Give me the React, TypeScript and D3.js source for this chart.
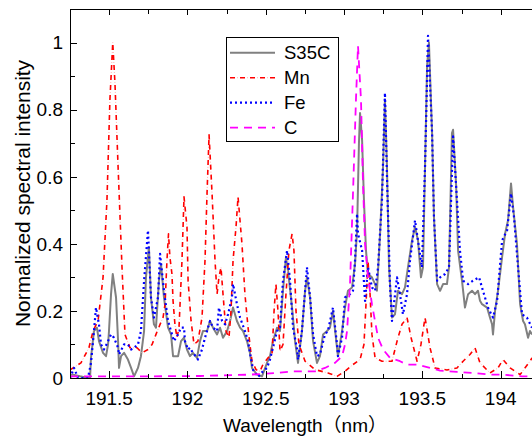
import React from "react";
import * as d3 from "d3";

// spectra: [wavelength (nm), normalized intensity]
const s35c: [number, number][] = [
  [191.25, 0.01], [191.269, 0.01], [191.314, 0.005], [191.365, 0], [191.378, 0], [191.384, 0.06],
  [191.403, 0.14], [191.422, 0.15], [191.435, 0.11], [191.461, 0.075], [191.48, 0.065], [191.493, 0.1],
  [191.499, 0.14], [191.512, 0.25], [191.523, 0.31], [191.544, 0.24], [191.557, 0.11], [191.563, 0.03],
  [191.576, 0.065], [191.595, 0.075], [191.62, 0.055], [191.64, 0.03], [191.659, 0.005], [191.684, 0.03],
  [191.703, 0.065], [191.723, 0.14], [191.735, 0.3], [191.754, 0.39], [191.767, 0.24], [191.786, 0.16],
  [191.799, 0.15], [191.818, 0.29], [191.831, 0.34], [191.85, 0.24], [191.876, 0.15], [191.895, 0.13],
  [191.908, 0.065], [191.927, 0.065], [191.94, 0.065], [191.959, 0.11], [191.978, 0.12], [191.997, 0.085],
  [192.016, 0.065], [192.035, 0.075], [192.061, 0.06], [192.08, 0.11], [192.099, 0.14], [192.125, 0.14],
  [192.144, 0.17], [192.163, 0.15], [192.189, 0.13], [192.208, 0.15], [192.227, 0.12], [192.253, 0.14],
  [192.272, 0.17], [192.291, 0.21], [192.316, 0.17], [192.336, 0.15], [192.355, 0.14], [192.38, 0.11],
  [192.399, 0.075], [192.412, 0.03], [192.444, 0.01], [192.476, 0.005], [192.508, 0.045], [192.527, 0.065],
  [192.546, 0.11], [192.572, 0.15], [192.591, 0.14], [192.61, 0.26], [192.629, 0.36], [192.642, 0.32],
  [192.668, 0.21], [192.687, 0.11], [192.706, 0.045], [192.731, 0.14], [192.751, 0.26], [192.763, 0.3],
  [192.783, 0.24], [192.802, 0.11], [192.827, 0.045], [192.846, 0.065], [192.866, 0.13], [192.891, 0.14],
  [192.91, 0.15], [192.929, 0.2], [192.955, 0.09], [192.961, 0.065], [192.987, 0.14], [193.006, 0.21],
  [193.025, 0.26], [193.051, 0.27], [193.07, 0.34], [193.083, 0.44], [193.095, 0.7], [193.102, 0.79],
  [193.115, 0.71], [193.127, 0.53], [193.14, 0.38], [193.153, 0.31], [193.178, 0.3], [193.198, 0.28],
  [193.21, 0.26], [193.23, 0.43], [193.249, 0.63], [193.261, 0.83], [193.274, 0.63], [193.287, 0.33],
  [193.306, 0.18], [193.325, 0.19], [193.344, 0.26], [193.37, 0.25], [193.389, 0.27], [193.408, 0.33],
  [193.434, 0.41], [193.453, 0.45], [193.472, 0.41], [193.491, 0.3], [193.504, 0.33], [193.517, 0.63],
  [193.53, 0.93], [193.542, 1.0], [193.562, 0.73], [193.574, 0.48], [193.594, 0.28], [193.613, 0.26],
  [193.632, 0.28], [193.657, 0.28], [193.67, 0.33], [193.689, 0.73], [193.696, 0.74], [193.715, 0.58],
  [193.728, 0.38], [193.753, 0.29], [193.772, 0.21], [193.792, 0.25], [193.817, 0.26], [193.836, 0.25],
  [193.855, 0.26], [193.868, 0.23], [193.881, 0.22], [193.913, 0.21], [193.932, 0.18], [193.945, 0.16],
  [193.951, 0.13], [193.964, 0.2], [193.983, 0.26], [194.009, 0.36], [194.028, 0.43], [194.047, 0.47],
  [194.066, 0.58], [194.079, 0.51], [194.104, 0.4], [194.124, 0.22], [194.143, 0.17], [194.155, 0.16],
  [194.175, 0.12], [194.187, 0.14], [194.2, 0.13],
];

const mn: [number, number][] = [
  [191.25, 0.024], [191.32, 0.045], [191.371, 0.09], [191.397, 0.14], [191.429, 0.17], [191.461, 0.3],
  [191.486, 0.53], [191.505, 0.83], [191.523, 1.0], [191.537, 0.88], [191.557, 0.63], [191.582, 0.33],
  [191.601, 0.13], [191.633, 0.09], [191.678, 0.09], [191.71, 0.075], [191.748, 0.085], [191.774, 0.1],
  [191.799, 0.13], [191.825, 0.16], [191.844, 0.18], [191.857, 0.22], [191.869, 0.35], [191.879, 0.43],
  [191.888, 0.36], [191.901, 0.31], [191.908, 0.23], [191.92, 0.16], [191.933, 0.12], [191.946, 0.15],
  [191.965, 0.35], [191.978, 0.54], [191.997, 0.45], [192.004, 0.29], [192.023, 0.17], [192.042, 0.1],
  [192.067, 0.11], [192.093, 0.18], [192.112, 0.35], [192.125, 0.55], [192.138, 0.725], [192.157, 0.55],
  [192.176, 0.35], [192.189, 0.25], [192.201, 0.3], [192.214, 0.33], [192.227, 0.25], [192.246, 0.14],
  [192.265, 0.12], [192.278, 0.2], [192.291, 0.35], [192.31, 0.45], [192.323, 0.54], [192.348, 0.4],
  [192.367, 0.25], [192.387, 0.15], [192.399, 0.1], [192.412, 0.05], [192.438, 0.025], [192.463, 0.02],
  [192.482, 0.04], [192.514, 0.06], [192.54, 0.07], [192.553, 0.2], [192.565, 0.28], [192.578, 0.2],
  [192.591, 0.08], [192.61, 0.1], [192.629, 0.25], [192.648, 0.38], [192.668, 0.43], [192.68, 0.38],
  [192.693, 0.2], [192.712, 0.1], [192.751, 0.05], [192.815, 0.025], [192.897, 0.015], [192.955, 0.005],
  [193.006, 0.02], [193.057, 0.04], [193.102, 0.055], [193.127, 0.1], [193.14, 0.22], [193.153, 0.35],
  [193.166, 0.25], [193.178, 0.13], [193.198, 0.06], [193.242, 0.05], [193.306, 0.05], [193.344, 0.12],
  [193.37, 0.16], [193.402, 0.18], [193.428, 0.12], [193.466, 0.05], [193.491, 0.1], [193.517, 0.18],
  [193.549, 0.09], [193.581, 0.03], [193.657, 0.024], [193.721, 0.03], [193.76, 0.05], [193.804, 0.07],
  [193.836, 0.09], [193.868, 0.045], [193.932, 0.015], [193.983, 0.03], [194.015, 0.055], [194.06, 0.03],
  [194.124, 0.01], [194.187, 0.05], [194.2, 0.06],
];

const fe: [number, number][] = [
  [191.25, 0], [191.276, 0.03], [191.301, 0], [191.365, 0], [191.384, 0.045], [191.403, 0.14],
  [191.416, 0.21], [191.435, 0.16], [191.448, 0.1], [191.467, 0.085], [191.493, 0.11], [191.512, 0.13],
  [191.531, 0.12], [191.557, 0.09], [191.563, 0.07], [191.595, 0.1], [191.62, 0.1], [191.64, 0.085],
  [191.659, 0.09], [191.684, 0.1], [191.703, 0.14], [191.723, 0.29], [191.748, 0.44], [191.767, 0.24],
  [191.786, 0.18], [191.812, 0.24], [191.825, 0.37], [191.85, 0.26], [191.876, 0.17], [191.895, 0.14],
  [191.914, 0.11], [191.94, 0.13], [191.959, 0.15], [191.978, 0.15], [191.984, 0.11], [192.004, 0.085],
  [192.016, 0.09], [192.035, 0.075], [192.061, 0.06], [192.067, 0.055], [192.093, 0.085], [192.112, 0.12],
  [192.144, 0.17], [192.163, 0.15], [192.189, 0.14], [192.201, 0.21], [192.221, 0.17], [192.24, 0.16],
  [192.259, 0.19], [192.284, 0.24], [192.291, 0.28], [192.316, 0.22], [192.336, 0.18], [192.367, 0.14],
  [192.387, 0.11], [192.399, 0.075], [192.419, 0.024], [192.451, 0.003], [192.482, 0.02], [192.508, 0.03],
  [192.527, 0.055], [192.546, 0.09], [192.572, 0.14], [192.591, 0.15], [192.61, 0.29], [192.636, 0.38],
  [192.655, 0.29], [192.674, 0.15], [192.7, 0.085], [192.706, 0.055], [192.731, 0.14], [192.763, 0.33],
  [192.783, 0.24], [192.802, 0.13], [192.827, 0.065], [192.846, 0.07], [192.878, 0.13], [192.897, 0.14],
  [192.929, 0.21], [192.955, 0.1], [192.961, 0.065], [192.987, 0.12], [193.006, 0.24], [193.038, 0.25],
  [193.057, 0.26], [193.07, 0.35], [193.083, 0.49], [193.089, 0.43], [193.115, 0.38], [193.134, 0.23],
  [193.153, 0.33], [193.178, 0.27], [193.198, 0.26], [193.217, 0.33], [193.242, 0.53], [193.261, 0.85],
  [193.274, 0.6], [193.293, 0.28], [193.306, 0.17], [193.338, 0.3], [193.357, 0.25], [193.376, 0.19],
  [193.402, 0.25], [193.421, 0.35], [193.453, 0.47], [193.472, 0.41], [193.497, 0.33], [193.517, 0.63],
  [193.536, 1.02], [193.562, 0.73], [193.574, 0.48], [193.594, 0.29], [193.613, 0.3], [193.645, 0.31],
  [193.67, 0.33], [193.696, 0.72], [193.721, 0.53], [193.74, 0.38], [193.76, 0.29], [193.792, 0.28],
  [193.823, 0.29], [193.862, 0.3], [193.887, 0.26], [193.919, 0.21], [193.951, 0.18], [193.977, 0.23],
  [194.009, 0.41], [194.041, 0.44], [194.066, 0.55], [194.085, 0.48], [194.111, 0.33], [194.136, 0.19],
  [194.168, 0.18], [194.2, 0.15],
];

const carbon: [number, number][] = [
  [191.25, 0.005], [191.761, 0.005], [192.08, 0.006], [192.399, 0.01], [192.572, 0.015], [192.674, 0.02],
  [192.815, 0.02], [192.878, 0.03], [192.942, 0.045], [192.987, 0.065], [193.006, 0.1], [193.019, 0.14],
  [193.038, 0.28], [193.057, 0.55], [193.076, 0.83], [193.089, 0.99], [193.108, 0.83], [193.121, 0.58],
  [193.134, 0.4], [193.153, 0.3], [193.178, 0.22], [193.217, 0.12], [193.249, 0.085], [193.293, 0.06],
  [193.357, 0.05], [193.402, 0.04], [193.466, 0.04], [193.549, 0.03], [193.613, 0.022], [193.721, 0.018],
  [193.823, 0.015], [193.932, 0.01], [194.015, 0.01], [194.136, 0.005], [194.2, 0.005],
];

const xMajorTicks = [191.5, 192, 192.5, 193, 193.5, 194];
const yMajorTicks = [0, 0.2, 0.4, 0.6, 0.8, 1];
const seriesNames = ["S35C", "Mn", "Fe", "C"];

const FONT = "'Liberation Sans', Arial, 'Noto Sans CJK JP', sans-serif";

const styles = [
  { color: "#808080", width: 2, dash: "" },
  { color: "#ff0000", width: 1.6, dash: "5,5" },
  { color: "#0000ff", width: 2.2, dash: "2,3" },
  { color: "#ff00ff", width: 1.8, dash: "8,6" },
];

export default function App() {
  const left = 70, right = 532, top = 9, bottom = 378;
  const x = d3.scaleLinear().domain([191.25, 194.2]).range([left, right]);
  const y = d3.scaleLinear().domain([0, 1.1]).range([bottom, top]);
  const line = d3.line<[number, number]>().x((d) => x(d[0])).y((d) => y(d[1]));

  const series = [s35c, mn, fe, carbon];
  const xMinor = d3.range(191.75, 194.2, 0.5);
  const yMinor = d3.range(0.1, 1.05, 0.2);

  return (
    <svg width={532} height={436} style={{ position: "absolute", left: 0, top: 0, background: "#fff" }}>
      <defs>
        <clipPath id="plot">
          <rect x={left} y={top} width={right - left + 2} height={bottom - top + 2} />
        </clipPath>
      </defs>
      <g clipPath="url(#plot)">
        {series.map((data, i) => (
          <g key={seriesNames[i]}>
            {i === 1 && (
              <path d={line(data) || ""} fill="none" stroke="#ffb4b4" strokeWidth={1}
                strokeDasharray="1,9" strokeDashoffset={-7} />
            )}
            <path d={line(data) || ""} fill="none" stroke={styles[i].color} strokeWidth={styles[i].width}
              strokeDasharray={styles[i].dash || undefined} strokeLinejoin="round" />
          </g>
        ))}
      </g>

      {/* frame */}
      <line x1={left + 0.5} x2={left + 0.5} y1={top} y2={bottom + 0.5} stroke="#000" />
      <line x1={left} x2={532} y1={top + 0.5} y2={top + 0.5} stroke="#000" />
      <line x1={left} x2={532} y1={bottom + 0.5} y2={bottom + 0.5} stroke="#000" />

      {/* x ticks */}
      {xMajorTicks.map((t) => (
        <g key={"xm" + t}>
          <line x1={Math.round(x(t)) + 0.5} x2={Math.round(x(t)) + 0.5} y1={bottom} y2={bottom - 7} stroke="#000" />
          <line x1={Math.round(x(t)) + 0.5} x2={Math.round(x(t)) + 0.5} y1={top} y2={top + 6} stroke="#000" />
          <text x={x(t)} y={405} textAnchor="middle" fontFamily={FONT} fontSize={19}>{String(t)}</text>
        </g>
      ))}
      {xMinor.map((t) => (
        <g key={"xn" + t}>
          <line x1={Math.round(x(t)) + 0.5} x2={Math.round(x(t)) + 0.5} y1={bottom} y2={bottom - 4} stroke="#000" />
          <line x1={Math.round(x(t)) + 0.5} x2={Math.round(x(t)) + 0.5} y1={top} y2={top + 5} stroke="#000" />
        </g>
      ))}

      {/* y ticks */}
      {yMajorTicks.map((t) => (
        <g key={"ym" + t}>
          <line x1={left} x2={left + 7} y1={Math.round(y(t)) + 0.5} y2={Math.round(y(t)) + 0.5} stroke="#000" />
          <text x={63} y={y(t)} dy="0.36em" textAnchor="end" fontFamily={FONT} fontSize={19}>{String(t)}</text>
        </g>
      ))}
      {yMinor.map((t) => (
        <line key={"yn" + t} x1={left} x2={left + 5} y1={Math.round(y(t)) + 0.5} y2={Math.round(y(t)) + 0.5} stroke="#000" />
      ))}

      {/* axis titles */}
      <text x={(left + right) / 2 + 4} y={431.5} textAnchor="middle" fontFamily={FONT} fontSize={19}>
        Wavelength（nm）
      </text>
      <text transform={`translate(29.5,${(top + bottom) / 2}) rotate(-90)`} textAnchor="middle"
        fontFamily={FONT} fontSize={20.9}>
        Normalized spectral intensity
      </text>

      {/* legend */}
      <rect x={226.5} y={37.5} width={112} height={104} fill="#fff" stroke="#000" />
      {seriesNames.map((name, i) => {
        const cy = 52.7 + i * 25;
        return (
          <g key={"lg" + name}>
            {i === 1 && (
              <line x1={230} x2={275} y1={cy} y2={cy} stroke="#ffb4b4" strokeWidth={1}
                strokeDasharray="1,9" strokeDashoffset={-7} />
            )}
            <line x1={230} x2={275} y1={cy} y2={cy} stroke={styles[i].color} strokeWidth={styles[i].width}
              strokeDasharray={styles[i].dash || undefined} />
            <text x={284} y={cy} dy="0.36em" fontFamily={FONT} fontSize={18.5}>{name}</text>
          </g>
        );
      })}
    </svg>
  );
}
